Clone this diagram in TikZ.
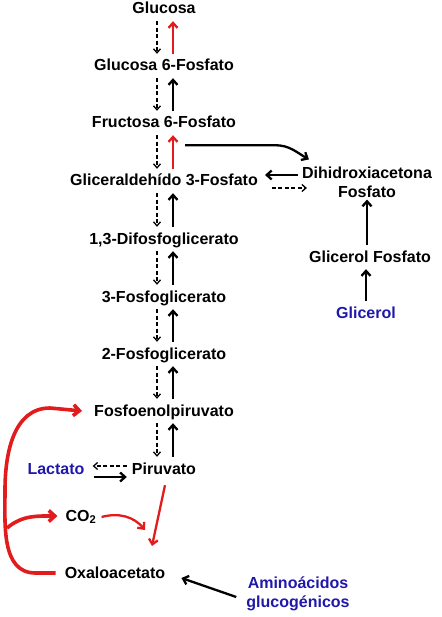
\documentclass[tikz,border=0pt]{standalone}
\usepackage{fontspec}
\setmainfont{Liberation Sans}
\usetikzlibrary{arrows.meta}
\definecolor{rojo}{RGB}{226,28,28}
\definecolor{azul}{RGB}{32,24,170}

\tikzstyle{nS}=[inner xsep=1pt, inner ysep=5pt, text height=12pt, text depth=2pt, font=\fontsize{16}{19}\selectfont\bfseries]
\tikzstyle{nB}=[nS, text=azul]
\tikzstyle{nM}=[inner sep=2pt, font=\fontsize{16}{19}\selectfont\bfseries, align=center]
\tikzstyle{eS}=[line width=2.3pt, -{Straight Barb[length=5pt,width=9pt]}]
\tikzstyle{eR}=[eS, draw=rojo]
\tikzstyle{eD}=[line width=1.3pt, dash pattern=on 4pt off 2.5pt, -{Straight Barb[length=4pt,width=7pt]}]
\tikzstyle{eRR}=[line width=3.6pt, draw=rojo, -{Straight Barb[length=6pt,width=11pt]}]

\begin{document}
\begin{tikzpicture}[x=1pt, y=-1pt]%[pixel grid]
                \useasboundingbox (0,0) rectangle (441,617);
                \draw (164,9) node[nS] (glu) {Glucosa};
                \draw (164,66) node[nS] (g6p) {Glucosa 6-Fosfato};
                \draw (164,123) node[nS] (f6p) {Fructosa 6-Fosfato};
                \draw (164,181) node[nS] (ga3p) {Gliceraldehído 3-Fosfato};
                \draw (164,239) node[nS] (dpg) {1,3-Difosfoglicerato};
                \draw (164,297) node[nS] (pg3) {3-Fosfoglicerato};
                \draw (164,354) node[nS] (pg2) {2-Fosfoglicerato};
                \draw (164,411) node[nS] (pep) {Fosfoenolpiruvato};
                \draw (164,469) node[nS] (pir) {Piruvato};
                \draw (56,469) node[nB] (lac) {Lactato};
                \draw (81,516) node[nS] (co2) {CO\textsubscript{2}};
                \draw (115,573) node[nS] (oxa) {Oxaloacetato};
                \draw (298,594) node[nM, text=azul] (ami) {Aminoácidos\\glucogénicos};
                \draw (367,182) node[nM] (dhap) {Dihidroxiacetona\\Fosfato};
                \draw (370,257) node[nS] (glf) {Glicerol Fosfato};
                \draw (366,313) node[nB] (gli) {Glicerol};
                \coordinate (mz) at (152,546);
                \coordinate (mc) at (145,530);
                \path
                    ([xshift=-7pt]glu.south) edge[eD] ([xshift=-7pt]g6p.north)
                    ([xshift=9pt]g6p.north) edge[eR] ([xshift=9pt]glu.south)
                    ([xshift=-7pt]g6p.south) edge[eD] ([xshift=-7pt]f6p.north)
                    ([xshift=9pt]f6p.north) edge[eS] ([xshift=9pt]g6p.south)
                    ([xshift=-7pt]f6p.south) edge[eD] ([xshift=-7pt]ga3p.north)
                    ([xshift=9pt]ga3p.north) edge[eR] ([xshift=9pt]f6p.south)
                    ([xshift=-7pt]ga3p.south) edge[eD] ([xshift=-7pt]dpg.north)
                    ([xshift=9pt]dpg.north) edge[eS] ([xshift=9pt]ga3p.south)
                    ([xshift=-7pt]dpg.south) edge[eD] ([xshift=-7pt]pg3.north)
                    ([xshift=9pt]pg3.north) edge[eS] ([xshift=9pt]dpg.south)
                    ([xshift=-7pt]pg3.south) edge[eD] ([xshift=-7pt]pg2.north)
                    ([xshift=9pt]pg2.north) edge[eS] ([xshift=9pt]pg3.south)
                    ([xshift=-7pt]pg2.south) edge[eD] ([xshift=-7pt]pep.north)
                    ([xshift=9pt]pep.north) edge[eS] ([xshift=9pt]pg2.south)
                    ([xshift=-7pt]pep.south) edge[eD] ([xshift=-7pt]pir.north)
                    ([xshift=9pt]pir.north) edge[eS] ([xshift=9pt]pep.south)
                    ([xshift=-4pt,yshift=3pt]pir.west) edge[eD] ([xshift=7pt,yshift=3pt]lac.east)
                    ([xshift=8pt,yshift=-8pt]lac.east) edge[eS] ([xshift=-4pt,yshift=-8pt]pir.west)
                    ([xshift=-2pt,yshift=7pt]dhap.west) edge[eS] ([xshift=6pt,yshift=6pt]ga3p.east)
                    ([xshift=13pt,yshift=-7pt]ga3p.east) edge[eD] ([xshift=7pt,yshift=-6pt]dhap.west)
                    (glf.north -| dhap.south) edge[eS] (dhap.south)
                    (gli.north) edge[eS] (gli.north |- glf.south)
                    ([xshift=-8pt,yshift=-3pt]ami.west) edge[eS] ([xshift=15pt,yshift=-5pt]oxa.east)
                    ([xshift=1pt,yshift=-4pt]pir.south) edge[eR] (mz)
                    ([xshift=4pt,yshift=-1pt]co2.east) edge[eR, out=15, in=130] (mc)
                ;
                \draw[eS] ([xshift=21pt,yshift=-10pt]f6p.south) -- ++(90,0) to[out=0, in=150] ([xshift=9pt,yshift=5pt]dhap.north west);
                \draw[eRR] ([xshift=-8pt]oxa.west) -- ++(-20,0) to[out=180, in=270] (5,490) to[out=90, in=180] (50,408) -- ([xshift=-11pt]pep.west);
                \draw[eRR] (7,528) to[out=40, in=180] ([xshift=-7pt]co2.west);
        \end{tikzpicture}
\end{document}
